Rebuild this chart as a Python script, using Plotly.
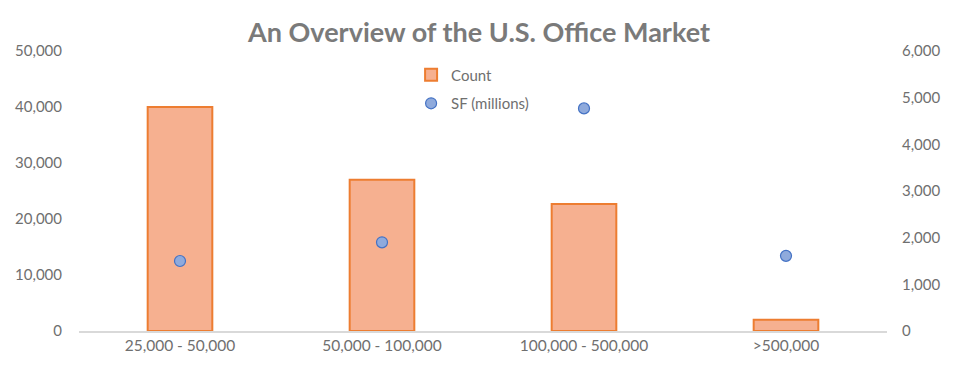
import plotly.graph_objects as go

categories = ["25,000 - 50,000", "50,000 - 100,000", "100,000 - 500,000", ">500,000"]
count_values = [40000, 27000, 22700, 2000]
sf_values = [1500, 1900, 4770, 1610]

left_ticks = [0, 10000, 20000, 30000, 40000, 50000]
right_ticks = [0, 1000, 2000, 3000, 4000, 5000, 6000]

FONT = "Lato, 'Open Sans', sans-serif"
TICK = "#6f6f6f"

fig = go.Figure()
fig.add_trace(go.Bar(
    x=categories, y=count_values, name="Count", legendgroup="a",
    marker=dict(color="#f6b090", line=dict(color="#ed7d31", width=2)),
    width=0.32, yaxis="y",
))
fig.add_trace(go.Scatter(
    x=categories, y=sf_values, name="SF (millions)", mode="markers", legendgroup="b",
    marker=dict(color="#8faadc", size=11, line=dict(color="#4472c4", width=1.2)),
    yaxis="y2",
))

# page body adds an 8px offset; margins compensate so the plot lands where the reference has it
fig.update_layout(
    width=958, height=378,
    margin=dict(l=71, r=79, t=43, b=55),
    paper_bgcolor="white", plot_bgcolor="white",
    font=dict(family=FONT, color=TICK, size=15),
    title=dict(text="<b>An Overview of the U.S. Office Market</b>", x=(479 - 8) / 958, xanchor="center",
               y=0.96, yanchor="top", font=dict(size=27, color="#7a7a7a", family=FONT)),
    xaxis=dict(showline=True, linecolor="#d9d9d9", linewidth=1.5, showgrid=False,
               ticks="", tickfont=dict(size=15.5, color=TICK), automargin=False),
    yaxis=dict(range=[0, 50000], tickvals=left_ticks, tickformat=",", showgrid=False,
               zeroline=False, ticks="", ticklabelstandoff=16, automargin=False,
               tickfont=dict(size=15, color=TICK)),
    yaxis2=dict(range=[0, 6000], tickvals=right_ticks, tickformat=",", overlaying="y",
                side="right", showgrid=False, zeroline=False, ticks="", ticklabelstandoff=14,
                automargin=False, tickfont=dict(size=15, color=TICK)),
    legend=dict(x=0.411, y=0.973, xanchor="left", yanchor="top", bgcolor="rgba(0,0,0,0)",
                font=dict(size=15, color=TICK), tracegroupgap=6, itemwidth=30),
    showlegend=True,
)

fig.write_html("out.html")
